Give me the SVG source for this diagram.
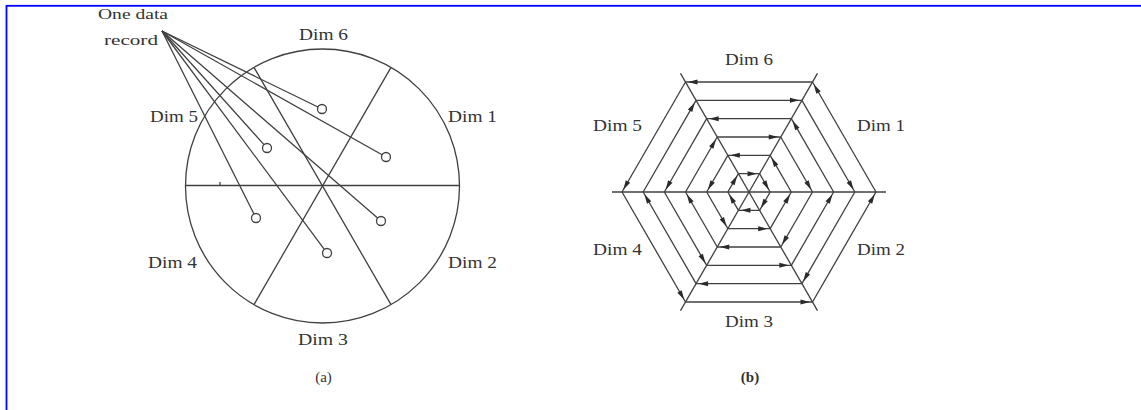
<svg xmlns="http://www.w3.org/2000/svg" xmlns:xlink="http://www.w3.org/1999/xlink" width="1141" height="410" viewBox="0 0 1141 410">
  <style>
    .ln { stroke: #404040; stroke-width: 1.3; fill: none; }
    .dot { stroke: #404040; stroke-width: 1.3; fill: #ffffff; }
    .lbl { font-family: "Liberation Serif", "Times New Roman", serif; font-size: 17px; fill: #333333; }
    .small { font-family: "Liberation Serif", "Times New Roman", serif; font-size: 14px; fill: #333333; }
    .cap { font-family: "Liberation Serif", "Times New Roman", serif; font-size: 15px; fill: #333333; text-anchor: middle; }
    .ah { fill: #2a2a2a; }
  </style>
  <defs>
    <path id="arrowhead" class="ah" d="M0,0 L-9.5,-2.5 L-9.5,2.5 Z"/>
    <g id="segment">
      <g class="ln">
        <line x1="21.17" y1="0" x2="10.58" y2="-18.33"/>
        <line x1="42.33" y1="0" x2="21.17" y2="-36.66"/>
        <line x1="63.5" y1="0" x2="31.75" y2="-54.99"/>
        <line x1="84.67" y1="0" x2="42.33" y2="-73.32"/>
        <line x1="105.83" y1="0" x2="52.92" y2="-91.65"/>
        <line x1="127" y1="0" x2="63.5" y2="-109.99"/>
      </g>
      <use xlink:href="#arrowhead" href="#arrowhead" transform="translate(19.92,-2.17) rotate(60)"/>
      <use xlink:href="#arrowhead" href="#arrowhead" transform="translate(22.42,-34.5) rotate(-120)"/>
      <use xlink:href="#arrowhead" href="#arrowhead" transform="translate(62.25,-2.17) rotate(60)"/>
      <use xlink:href="#arrowhead" href="#arrowhead" transform="translate(43.58,-71.16) rotate(-120)"/>
      <use xlink:href="#arrowhead" href="#arrowhead" transform="translate(104.58,-2.17) rotate(60)"/>
      <use xlink:href="#arrowhead" href="#arrowhead" transform="translate(64.75,-107.83) rotate(-120)"/>
    </g>
  </defs>

  <rect width="1141" height="410" fill="#ffffff"/>
  <rect x="6.5" y="5.8" width="1200" height="500" fill="none" stroke="#0000ff" stroke-width="1.8"/>

  <!-- (a) circle segments -->
  <g id="circle-a">
    <circle class="ln" cx="322.5" cy="186" r="137"/>
    <line class="ln" x1="185.5" y1="185.5" x2="459.5" y2="185.5"/>
    <line class="ln" x1="391" y1="67.4" x2="254" y2="304.6"/>
    <line class="ln" x1="254" y1="67.4" x2="391" y2="304.6"/>
    <line class="ln" x1="220" y1="182" x2="220" y2="185"/>
  </g>
  <g id="record-lines" class="ln">
    <line x1="162" y1="31" x2="317.95" y2="107.03"/>
    <line x1="162" y1="31" x2="382.08" y2="154.79"/>
    <line x1="162" y1="31" x2="263.99" y2="144.65"/>
    <line x1="162" y1="31" x2="253.98" y2="213.98"/>
    <line x1="162" y1="31" x2="377.6" y2="218.05"/>
    <line x1="162" y1="31" x2="324.32" y2="249.39"/>
  </g>
  <g id="record-points">
    <circle class="dot" cx="322" cy="109" r="4.5"/>
    <circle class="dot" cx="386" cy="157" r="4.5"/>
    <circle class="dot" cx="267" cy="148" r="4.5"/>
    <circle class="dot" cx="256" cy="218" r="4.5"/>
    <circle class="dot" cx="381" cy="221" r="4.5"/>
    <circle class="dot" cx="327" cy="253" r="4.5"/>
  </g>
  <g id="labels-a">
    <text class="small" x="98" y="19" textLength="70" lengthAdjust="spacingAndGlyphs">One data</text>
    <text class="small" x="104" y="45" textLength="54" lengthAdjust="spacingAndGlyphs">record</text>
    <text class="lbl" x="299" y="40" textLength="49" lengthAdjust="spacingAndGlyphs">Dim 6</text>
    <text class="lbl" x="448" y="122" textLength="49" lengthAdjust="spacingAndGlyphs">Dim 1</text>
    <text class="lbl" x="150" y="122" textLength="48" lengthAdjust="spacingAndGlyphs">Dim 5</text>
    <text class="lbl" x="148" y="268" textLength="49" lengthAdjust="spacingAndGlyphs">Dim 4</text>
    <text class="lbl" x="448" y="268" textLength="49" lengthAdjust="spacingAndGlyphs">Dim 2</text>
    <text class="lbl" x="298" y="345" textLength="50" lengthAdjust="spacingAndGlyphs">Dim 3</text>
    <text class="cap" x="323.5" y="382">(a)</text>
  </g>

  <!-- (b) hexagon segments -->
  <g id="hexagon-b" transform="translate(749,192)">
    <g id="axes" class="ln">
      <line x1="-137" y1="0" x2="137" y2="0"/>
      <line x1="68.5" y1="-118.6" x2="-68.5" y2="118.6"/>
      <line x1="-68.5" y1="-118.6" x2="68.5" y2="118.6"/>
    </g>
    <use id="seg-dim1" xlink:href="#segment" href="#segment"/>
    <use id="seg-dim6" xlink:href="#segment" href="#segment" transform="rotate(-60)"/>
    <use id="seg-dim5" xlink:href="#segment" href="#segment" transform="rotate(-120)"/>
    <use id="seg-dim4" xlink:href="#segment" href="#segment" transform="rotate(-180)"/>
    <use id="seg-dim3" xlink:href="#segment" href="#segment" transform="rotate(-240)"/>
    <use id="seg-dim2" xlink:href="#segment" href="#segment" transform="rotate(-300)"/>
  </g>
  <g id="labels-b">
    <text class="lbl" x="725" y="65" textLength="48" lengthAdjust="spacingAndGlyphs">Dim 6</text>
    <text class="lbl" x="593" y="131" textLength="49" lengthAdjust="spacingAndGlyphs">Dim 5</text>
    <text class="lbl" x="857" y="131" textLength="48" lengthAdjust="spacingAndGlyphs">Dim 1</text>
    <text class="lbl" x="593" y="255" textLength="49" lengthAdjust="spacingAndGlyphs">Dim 4</text>
    <text class="lbl" x="857" y="255" textLength="48" lengthAdjust="spacingAndGlyphs">Dim 2</text>
    <text class="lbl" x="725" y="327" textLength="48" lengthAdjust="spacingAndGlyphs">Dim 3</text>
    <text class="cap" x="750" y="382" font-weight="bold">(b)</text>
  </g>
</svg>
